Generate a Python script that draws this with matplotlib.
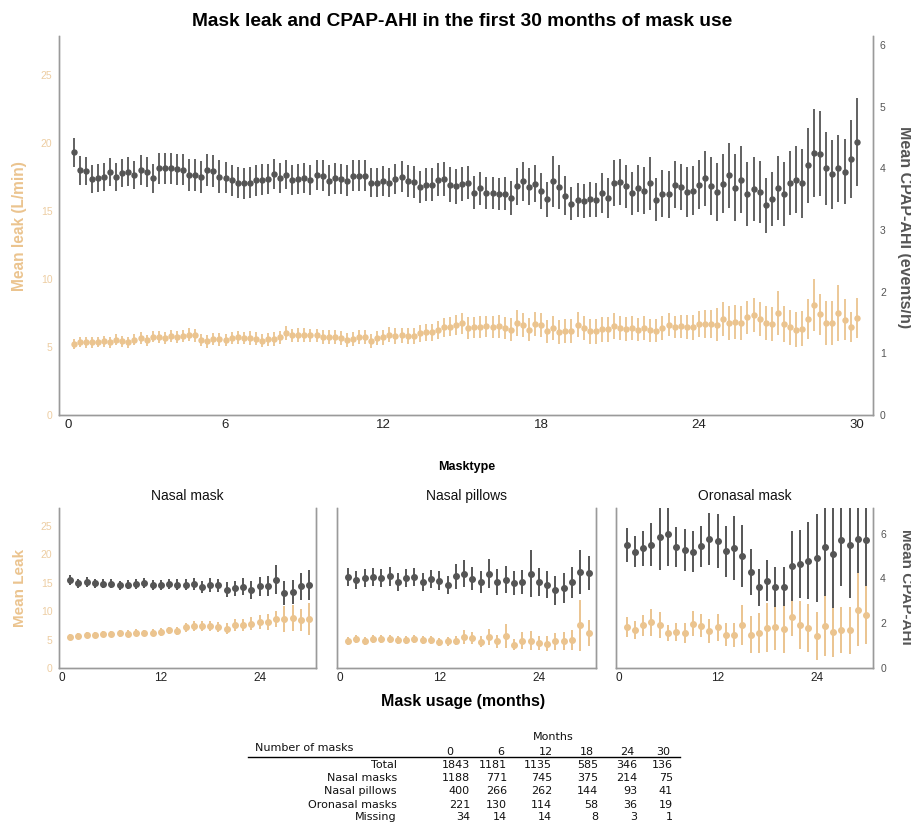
import numpy as np
import matplotlib
matplotlib.use("Agg")
import matplotlib.pyplot as plt
from matplotlib.lines import Line2D

plt.rcParams['font.family'] = ['Liberation Sans', 'DejaVu Sans']

# ---- top panel: weekly means, first 30 months ----
weeks = np.arange(1, 131)
top_ahi = [4.26, 3.97, 3.96, 3.83, 3.85, 3.86, 3.94, 3.86, 3.93, 3.95, 3.89, 3.98, 3.94, 3.84, 4.00, 4.00,
           4.00, 3.99, 3.98, 3.89, 3.90, 3.86, 3.98, 3.96, 3.87, 3.85, 3.81, 3.77, 3.76, 3.77, 3.81, 3.82,
           3.83, 3.91, 3.85, 3.90, 3.81, 3.83, 3.85, 3.81, 3.89, 3.88, 3.80, 3.84, 3.83, 3.80, 3.88, 3.88,
           3.88, 3.77, 3.77, 3.80, 3.77, 3.83, 3.87, 3.80, 3.78, 3.70, 3.74, 3.74, 3.82, 3.83, 3.74, 3.71,
           3.75, 3.77, 3.61, 3.68, 3.61, 3.60, 3.58, 3.59, 3.52, 3.71, 3.79, 3.70, 3.75, 3.63, 3.50, 3.79,
           3.70, 3.56, 3.43, 3.49, 3.47, 3.50, 3.49, 3.60, 3.52, 3.76, 3.78, 3.71, 3.60, 3.68,
           3.64, 3.76, 3.49, 3.59, 3.58, 3.74, 3.70, 3.62, 3.64, 3.74, 3.84, 3.72, 3.62, 3.75, 3.89, 3.69,
           3.82, 3.58, 3.67, 3.62, 3.40, 3.51, 3.68, 3.59, 3.77, 3.82, 3.76, 4.05, 4.25, 4.24, 4.00, 3.91,
           4.00, 3.95, 4.15, 4.43]
top_ahi_err = [0.23, 0.23, 0.23, 0.23, 0.23, 0.23, 0.23, 0.23, 0.23, 0.23,
               0.23, 0.24, 0.24, 0.24, 0.25, 0.25, 0.25, 0.25, 0.25, 0.26,
               0.26, 0.26, 0.26, 0.26, 0.26, 0.25, 0.25, 0.25, 0.25, 0.25,
               0.25, 0.25, 0.24, 0.24, 0.24, 0.24, 0.24, 0.24, 0.24, 0.24,
               0.24, 0.25, 0.25, 0.25, 0.25, 0.25, 0.25, 0.25, 0.25, 0.24,
               0.24, 0.24, 0.24, 0.25, 0.25, 0.26, 0.26, 0.26, 0.26, 0.26,
               0.27, 0.27, 0.28, 0.28, 0.27, 0.27, 0.27, 0.27, 0.26, 0.26,
               0.26, 0.27, 0.27, 0.30, 0.31, 0.30, 0.30, 0.29, 0.28, 0.42,
               0.35, 0.32, 0.27, 0.28, 0.28, 0.28, 0.28, 0.32, 0.32, 0.37,
               0.37, 0.35, 0.35, 0.38, 0.38, 0.43, 0.35, 0.38, 0.38, 0.38,
               0.38, 0.40, 0.40, 0.40, 0.45, 0.47, 0.47, 0.48, 0.53, 0.55,
               0.55, 0.52, 0.52, 0.50, 0.44, 0.44, 0.52, 0.52, 0.52, 0.55,
               0.56, 0.61, 0.71, 0.69, 0.60, 0.56, 0.54, 0.53, 0.63, 0.71]
top_leak = [5.24, 5.36, 5.34, 5.34, 5.36, 5.41, 5.34, 5.53, 5.41, 5.36, 5.53, 5.66, 5.48, 5.75, 5.70, 5.66,
            5.78, 5.75, 5.78, 5.90, 5.85, 5.53, 5.41, 5.60, 5.56, 5.51, 5.66, 5.70, 5.66, 5.66, 5.60, 5.46,
            5.58, 5.60, 5.70, 6.02, 5.85, 5.90,
            5.90, 5.85, 5.85, 5.73, 5.71, 5.71, 5.66, 5.51, 5.59, 5.71, 5.71, 5.41, 5.66, 5.71, 5.90, 5.80,
            5.85, 5.80, 5.80, 6.00, 6.07, 6.07, 6.24, 6.44, 6.49, 6.59, 6.73, 6.39, 6.44, 6.44, 6.51, 6.44,
            6.51, 6.39, 6.27, 6.76, 6.63, 6.27, 6.68, 6.63, 6.15, 6.39, 6.10, 6.20, 6.20, 6.63, 6.39, 6.15,
            6.15, 6.29, 6.30,
            6.51, 6.39, 6.32, 6.39, 6.27, 6.39, 6.22, 6.20, 6.39, 6.63, 6.44, 6.51, 6.46, 6.44, 6.68, 6.68,
            6.68, 6.63, 7.07, 6.76, 6.83, 6.73, 7.17, 7.32, 7.07, 6.76, 6.68, 7.49, 6.68, 6.44, 6.27, 6.34,
            7.07, 8.10, 7.41, 6.76, 6.76, 7.49, 7.00, 6.44, 7.12]
top_leak_err = [0.38, 0.38, 0.38, 0.38, 0.38, 0.38, 0.38, 0.40, 0.40, 0.40,
                0.40, 0.42, 0.42, 0.42, 0.44, 0.44, 0.44, 0.45, 0.45, 0.46,
                0.46, 0.45, 0.45, 0.45, 0.46, 0.46, 0.47, 0.47, 0.47, 0.48,
                0.48, 0.48, 0.48, 0.50, 0.50, 0.52, 0.50, 0.50, 0.50, 0.50,
                0.50, 0.50, 0.50, 0.50, 0.50, 0.52, 0.52, 0.52, 0.52, 0.52,
                0.54, 0.54, 0.54, 0.56, 0.56, 0.58, 0.58, 0.60, 0.62, 0.64,
                0.66, 0.70, 0.72, 0.74, 0.76, 0.78, 0.78, 0.80, 0.80, 0.80,
                0.82, 0.84, 0.86, 0.92, 0.90, 0.86, 0.88, 0.88, 0.86, 0.90,
                0.88, 0.88, 0.88, 0.92, 0.90, 0.90, 0.90, 0.92, 0.92, 0.95,
                0.85, 0.85, 0.85, 0.85, 0.85, 0.82, 0.82, 0.85, 0.85, 0.80,
                0.85, 0.90, 0.92, 0.95, 1.04, 1.05, 1.20, 1.25, 1.25, 1.25,
                1.25, 1.24, 1.25, 1.27, 1.27, 1.27, 1.60, 1.30, 1.30, 1.28,
                1.30, 1.46, 1.90, 1.50, 1.60, 1.60, 2.07, 1.50, 1.10, 1.46]

# ---- bottom panels: monthly means per mask type ----
months = np.arange(1, 31)
panel_names = ["Nasal mask", "Nasal pillows", "Oronasal mask"]
nm_ahi = [3.94, 3.79, 3.84, 3.78, 3.75, 3.76, 3.69, 3.72, 3.76, 3.78, 3.69, 3.71, 3.75, 3.72, 3.71,
          3.74, 3.62, 3.71, 3.69, 3.50, 3.56, 3.62, 3.47, 3.65, 3.65, 3.94, 3.35, 3.39, 3.65, 3.71]
nm_ahi_err = [0.22, 0.20, 0.22, 0.20, 0.20, 0.20, 0.20, 0.20, 0.22, 0.22, 0.22, 0.22, 0.24, 0.24, 0.25,
              0.26, 0.28, 0.30, 0.30, 0.32, 0.34, 0.38, 0.40, 0.42, 0.44, 0.65, 0.52, 0.54, 0.60, 0.68]
nm_leak = [5.44, 5.56, 5.74, 5.80, 5.97, 5.97, 6.09, 6.03, 6.21, 6.15, 6.21, 6.32, 6.62, 6.56, 7.14,
           7.32, 7.32, 7.32, 7.20, 6.91, 7.55, 7.55, 7.79, 8.08, 8.14, 8.61, 8.61, 8.78, 8.49, 8.61]
nm_leak_err = [0.55, 0.55, 0.55, 0.55, 0.55, 0.58, 0.58, 0.60, 0.60, 0.60, 0.62, 0.62, 0.65, 0.70, 0.80,
               0.85, 0.85, 0.90, 0.90, 1.00, 1.05, 1.10, 1.20, 1.30, 1.40, 1.45, 2.20, 2.20, 1.95, 2.80]
np_ahi = [4.06, 3.94, 4.02, 4.06, 4.02, 4.09, 3.84, 4.02, 4.06, 3.84, 3.97, 3.90, 3.72, 4.09, 4.21,
          3.99, 3.84, 4.21, 3.84, 3.94, 3.79, 3.84, 4.21, 3.84, 3.72, 3.47, 3.57, 3.82, 4.27, 4.24]
np_ahi_err = [0.40, 0.40, 0.40, 0.42, 0.40, 0.42, 0.40, 0.42, 0.42, 0.40, 0.40, 0.42, 0.40, 0.56, 0.61,
              0.50, 0.50, 0.65, 0.60, 0.60, 0.55, 0.55, 1.04, 0.63, 0.60, 0.65, 0.65, 0.68, 0.99, 0.76]
np_leak = [4.80, 5.15, 4.80, 5.15, 5.09, 5.09, 4.98, 4.98, 5.09, 4.86, 4.86, 4.57, 4.68, 4.80, 5.44,
           5.27, 4.63, 5.44, 4.68, 5.56, 4.10, 4.80, 4.80, 4.39, 4.27, 4.68, 4.80, 4.86, 7.49, 6.15]
np_leak_err = [0.70, 0.70, 0.70, 0.72, 0.72, 0.72, 0.72, 0.72, 0.72, 0.72, 0.72, 0.72, 0.75, 0.80, 1.15,
               1.10, 1.00, 1.46, 1.20, 2.10, 1.00, 1.50, 1.67, 1.30, 1.30, 1.46, 1.58, 1.75, 4.50, 2.30]
on_ahi = [5.48, 5.18, 5.34, 5.51, 5.85, 6.00, 5.40, 5.28, 5.19, 5.43, 5.76, 5.67, 5.21, 5.36, 4.99,
          4.30, 3.60, 3.90, 3.63, 3.62, 4.57, 4.66, 4.79, 4.90, 5.39, 5.09, 5.70, 5.51, 5.76, 5.73]
on_ahi_err = [0.75, 0.69, 0.78, 0.94, 1.46, 1.43, 0.90, 0.93, 0.92, 0.92, 1.16, 1.20, 1.13, 1.44, 1.37,
              1.03, 0.83, 0.93, 0.89, 0.87, 1.56, 1.52, 1.71, 1.97, 2.19, 2.41, 2.05, 2.38, 1.52, 2.08]
on_leak = [7.14, 6.62, 7.49, 8.02, 7.49, 6.09, 6.32, 6.15, 7.79, 7.44, 6.50, 7.14, 5.85, 5.80, 7.61,
           5.85, 6.21, 7.03, 7.14, 6.85, 8.90, 7.61, 7.03, 5.56, 7.44, 6.38, 6.67, 6.62, 10.25, 9.25]
on_leak_err = [1.76, 1.60, 1.80, 2.40, 2.30, 1.40, 1.60, 1.80, 2.20, 2.05, 2.10, 2.40, 2.00, 2.10, 3.50,
               3.20, 3.50, 4.30, 4.00, 4.30, 3.20, 4.20, 4.20, 4.20, 5.30, 4.40, 4.00, 4.10, 6.40, 5.10]

# ---- table of mask counts ----
table_cols = ["0", "6", "12", "18", "24", "30"]
table_rows = ["Total", "Nasal masks", "Nasal pillows", "Oronasal masks", "Missing"]
table_vals = [[1843, 1181, 1135, 585, 346, 136],
              [1188, 771, 745, 375, 214, 75],
              [400, 266, 262, 144, 93, 41],
              [221, 130, 114, 58, 36, 19],
              [34, 14, 14, 8, 3, 1]]

TAN = '#EBC48F'
TAN_TXT = '#EDCDA2'
DARK = '#555555'
SPINE = '#9a9a9a'
W, H = 912, 822


def px(x, y):
    return x / W, 1 - y / H


def style_axes(ax, ax2):
    for a in (ax, ax2):
        a.spines['top'].set_visible(False)
        for s in ('left', 'right', 'bottom'):
            a.spines[s].set_color(SPINE)
            a.spines[s].set_linewidth(1.0)
        a.tick_params(length=0)
    ax.tick_params(axis='y', colors=TAN_TXT, labelsize=7.5, pad=5)
    ax2.tick_params(axis='y', colors=DARK, labelsize=7.5, pad=5)
    ax.tick_params(axis='x', colors='#222222', labelsize=8.5, pad=3)


fig = plt.figure(figsize=(W / 100, H / 100), dpi=100)

# top plot
ax = fig.add_axes([59.3 / W, 1 - 415 / H, (873 - 59.3) / W, (415 - 36) / H])
ax2 = ax.twinx()
mx = weeks * 30 / 130
ax.errorbar(mx, top_leak, yerr=top_leak_err, fmt='o', color=TAN, ms=3.6, elinewidth=1.3, capsize=0)
ax2.errorbar(mx, top_ahi, yerr=top_ahi_err, fmt='o', color=DARK, ms=3.6, elinewidth=1.3, capsize=0)
ax.set_xlim(-0.32, 30.62)
ax.set_ylim(0, 27.85)
ax2.set_ylim(0, 6.15)
ax.set_xticks([0, 6, 12, 18, 24, 30])
ax.set_yticks([0, 5, 10, 15, 20, 25])
ax2.set_yticks([0, 1, 2, 3, 4, 5, 6])
style_axes(ax, ax2)
ax.tick_params(axis='x', labelsize=9.5)

fig.text(*px(462, 21), "Mask leak and CPAP-AHI in the first 30 months of mask use",
         ha='center', va='center', fontsize=13.8, fontweight='bold')
fig.text(*px(20, 226), "Mean leak (L/min)", rotation=90, ha='center', va='center',
         fontsize=11.2, fontweight='bold', color=TAN)
fig.text(*px(905, 227), "Mean CPAP-AHI (events/h)", rotation=-90, ha='center', va='center',
         fontsize=11.5, fontweight='bold', color=DARK)

# bottom facets
fig.text(*px(467, 467), "Masktype", ha='center', va='center', fontsize=9, fontweight='bold')
panel_left = [59.3, 337, 615.7]
panel_right = [316, 595.7, 873.3]
panel_data = [(nm_leak, nm_leak_err, nm_ahi, nm_ahi_err),
              (np_leak, np_leak_err, np_ahi, np_ahi_err),
              (on_leak, on_leak_err, on_ahi, on_ahi_err)]
for i, name in enumerate(panel_names):
    l, r = panel_left[i], panel_right[i]
    bx = fig.add_axes([l / W, 1 - 668 / H, (r - l) / W, 160 / H])
    bx2 = bx.twinx()
    leak, leak_err, ahi, ahi_err = panel_data[i]
    bx.errorbar(months, leak, yerr=leak_err, fmt='o', color=TAN, ms=4.0, elinewidth=1.4, capsize=0)
    bx2.errorbar(months, ahi, yerr=ahi_err, fmt='o', color=DARK, ms=4.0, elinewidth=1.4, capsize=0)
    bx.set_xlim(-0.33, 30.85)
    bx.set_ylim(0, 28.1)
    bx2.set_ylim(0, 7.14)
    bx.set_xticks([0, 12, 24])
    bx.set_yticks([0, 5, 10, 15, 20, 25])
    bx2.set_yticks([0, 2, 4, 6])
    style_axes(bx, bx2)
    if i != 0:
        bx.set_yticklabels([])
    if i != 2:
        bx2.set_yticklabels([])
    bx.set_title(name, fontsize=10, pad=6, color='#111111')

fig.text(*px(20, 588), "Mean Leak", rotation=90, ha='center', va='center',
         fontsize=11, fontweight='bold', color=TAN)
fig.text(*px(906, 587), "Mean CPAP-AHI", rotation=-90, ha='center', va='center',
         fontsize=11, fontweight='bold', color=DARK)
fig.text(*px(463, 701), "Mask usage (months)", ha='center', va='center',
         fontsize=11.5, fontweight='bold')

# table
tf = dict(fontsize=8, family='DejaVu Sans', va='center', color='#111111')
fig.text(*px(553, 737), "Months", ha='center', **tf)
fig.text(*px(255, 748), "Number of masks", ha='left', **tf)
head_x = [450, 501, 546, 587, 627, 663]
val_x = [470, 507, 552, 598, 637, 673]
row_y = [764.5, 778, 791, 804.5, 817]
for c, hx in zip(table_cols, head_x):
    fig.text(*px(hx, 752), c, ha='center', **tf)
fig.add_artist(Line2D([248 / W, 680 / W], [1 - 757 / H, 1 - 757 / H],
                      transform=fig.transFigure, color='black', lw=1.0))
for r, ry, vals in zip(table_rows, row_y, table_vals):
    fig.text(*px(397, ry), r, ha='right', **tf)
    for v, vx in zip(vals, val_x):
        fig.text(*px(vx, ry), str(v), ha='right', **tf)

fig.savefig("out.png", dpi=100)
